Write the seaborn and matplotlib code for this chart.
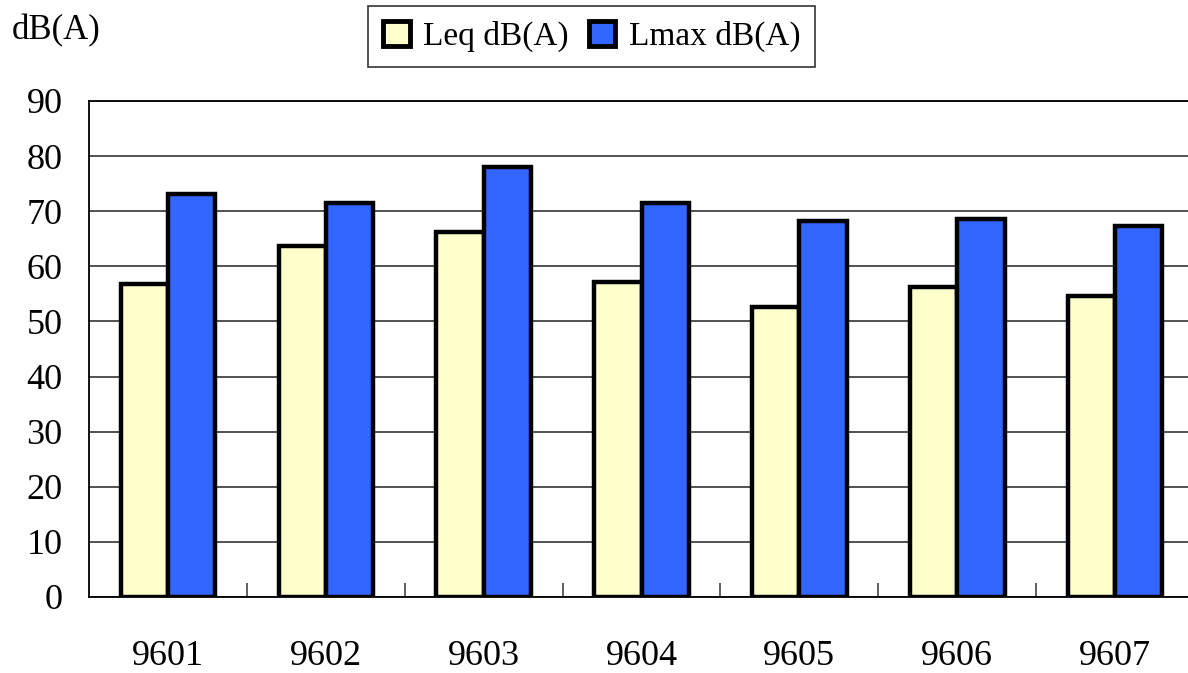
import pandas as pd
import matplotlib
matplotlib.use("Agg")
import matplotlib.pyplot as plt
import seaborn as sns

# values
months = ["9601", "9602", "9603", "9604", "9605", "9606", "9607"]
leq = [56.8, 63.6, 66.2, 57.2, 52.6, 56.2, 54.6]
lmax = [73.1, 71.5, 78.1, 71.4, 68.2, 68.6, 67.4]
series = ["Leq dB(A)", "Lmax dB(A)"]
colors = ["#FFFFCC", "#3366FF"]

df = pd.DataFrame({"month": months * 2,
                   "value": leq + lmax,
                   "series": [series[0]] * len(months) + [series[1]] * len(months)})

sns.set_style("white")
plt.rcParams['font.family'] = ['Liberation Serif', 'DejaVu Serif']
plt.rcParams['text.color'] = 'black'

fig = plt.figure(figsize=(11.88, 6.73), dpi=100)
# axes runs a little past the right edge, like the original
ax = fig.add_axes([0.075, 0.113, 0.93, 0.737])

sns.barplot(data=df, x="month", y="value", hue="series", palette=colors,
            saturation=1, width=0.6, edgecolor="black", linewidth=3.2, ax=ax, zorder=3)

ax.set_ylim(0, 90)
ax.set_yticks(range(0, 91, 10))
ax.set_xlim(-0.5, len(months) - 0.5)
ax.yaxis.grid(True, color="#333333", linewidth=1.2, zorder=0)
ax.set_axisbelow(True)
for s in ax.spines.values():
    s.set_color("black")
    s.set_linewidth(1.3)
ax.spines["right"].set_visible(False)

ax.set_xlabel("")
ax.set_ylabel("")
ax.tick_params(axis="y", length=0, pad=19, labelsize=26, labelcolor="black")
ax.tick_params(axis="x", length=0, pad=31, labelsize=26, labelcolor="black")
# small tick marks between groups
ax.set_xticks([i + 0.5 for i in range(len(months) - 1)], minor=True)
ax.tick_params(axis="x", which="minor", direction="in", length=10, color="#444444",
               width=1.2, bottom=True)

fig.text(0.010, 0.955, "dB(A)", fontsize=25, va="center", ha="left")

leg = ax.legend(loc="center", bbox_to_anchor=(0.455, 1.13), ncol=2, fontsize=24,
                frameon=True, fancybox=False, edgecolor="black",
                handlelength=0.8, handleheight=0.8, handletextpad=0.4,
                columnspacing=0.6, borderpad=0.45)
leg.get_frame().set_linewidth(1.2)
for h in leg.legend_handles:
    h.set_linewidth(3.5)

fig.savefig("out.png", dpi=100)
